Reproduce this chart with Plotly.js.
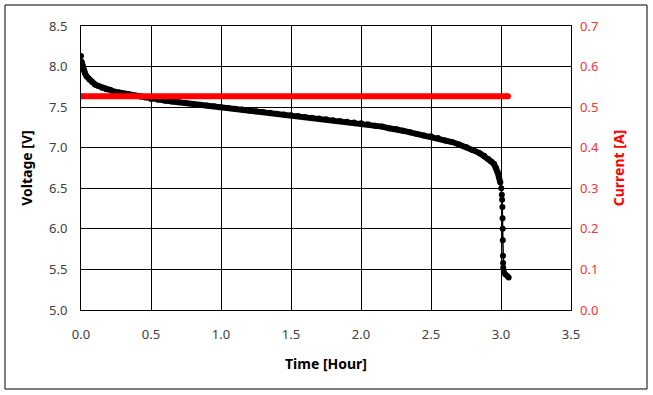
<!DOCTYPE html>
<html>
<head>
<meta charset="utf-8">
<script src="https://cdn.plot.ly/plotly-3.0.1.min.js"></script>
<style>html,body{margin:0;padding:0;background:#fff;}#chart{width:653px;height:395px;}</style>
</head>
<body>
<div id="chart"></div>
<script>
const timeHours = [0.000,0.004,0.010,0.018,0.028,0.040,0.060,0.080,0.100,0.125,0.150,0.180,0.210,0.240,0.270,0.300,0.340,0.380,0.420,0.460,0.500,0.550,0.600,0.650,0.700,0.750,0.800,0.850,0.900,0.950,1.000,1.050,1.100,1.150,1.200,1.250,1.300,1.350,1.400,1.450,1.500,1.550,1.600,1.650,1.700,1.750,1.800,1.850,1.900,1.950,2.000,2.050,2.100,2.150,2.200,2.250,2.300,2.350,2.400,2.450,2.500,2.550,2.600,2.650,2.700,2.750,2.800,2.850,2.880,2.910,2.930,2.950,2.965,2.975,2.985,2.995,3.002,3.006,3.008,3.010,3.011,3.012,3.013,3.014,3.015,3.016,3.020,3.030,3.045,3.055];
const voltage = [8.13,8.06,8.01,7.96,7.92,7.88,7.84,7.81,7.78,7.76,7.74,7.72,7.71,7.69,7.68,7.67,7.66,7.64,7.63,7.62,7.60,7.59,7.58,7.57,7.56,7.55,7.54,7.53,7.52,7.51,7.50,7.49,7.48,7.47,7.46,7.45,7.44,7.43,7.42,7.41,7.40,7.39,7.38,7.37,7.36,7.35,7.34,7.33,7.32,7.31,7.30,7.29,7.27,7.26,7.24,7.23,7.21,7.19,7.17,7.15,7.14,7.12,7.09,7.07,7.04,7.01,6.97,6.93,6.90,6.86,6.83,6.80,6.75,6.70,6.64,6.57,6.50,6.42,6.36,6.27,6.13,6.00,5.86,5.67,5.58,5.52,5.47,5.44,5.42,5.40];
const currentTime = [0.000, 3.05];
const current = [0.527, 0.527];

// dense (thick) part of the voltage record, before the sharp knee
const denseCount = 76;

const fontFam = '"Noto Sans", "Open Sans", sans-serif';
const tickGray = '#404040';

const traces = [
  {
    x: timeHours.slice(1, denseCount), y: voltage.slice(1, denseCount),
    type: 'scatter', mode: 'lines', xaxis: 'x', yaxis: 'y', hoverinfo: 'skip',
    line: {color: '#000000', width: 6}
  },
  {
    x: timeHours, y: voltage, type: 'scatter', mode: 'lines+markers',
    name: 'Voltage', xaxis: 'x', yaxis: 'y',
    line: {color: '#000000', width: 1.5},
    marker: {color: '#000000', size: 6}
  },
  {
    x: currentTime, y: current, type: 'scatter', mode: 'lines+markers',
    name: 'Current', xaxis: 'x', yaxis: 'y2',
    line: {color: '#ff0000', width: 6},
    marker: {color: '#ff0000', size: 6}
  }
];

const layout = {
  width: 653, height: 395,
  margin: {l: 81, r: 82, t: 26, b: 85},
  paper_bgcolor: '#ffffff', plot_bgcolor: '#ffffff',
  showlegend: false,
  font: {family: fontFam, size: 13, color: tickGray},
  xaxis: {
    range: [0, 3.5], dtick: 0.5, tick0: 0, tickformat: '.1f',
    showgrid: true, gridcolor: '#000000', gridwidth: 1,
    showline: true, linecolor: '#000000', linewidth: 1, mirror: true,
    zeroline: false, ticks: '', ticklabelstandoff: 12,
    tickfont: {family: fontFam, size: 13, color: tickGray},
    title: {text: 'Time [Hour]', font: {family: fontFam, size: 14, color: '#000000', weight: 'bold'}, standoff: 17},
    automargin: false
  },
  yaxis: {
    range: [5, 8.5], dtick: 0.5, tick0: 5, tickformat: '.1f',
    showgrid: true, gridcolor: '#000000', gridwidth: 1,
    showline: true, linecolor: '#000000', linewidth: 1, mirror: true,
    zeroline: false, ticks: '', ticklabelstandoff: 10,
    tickfont: {family: fontFam, size: 13, color: tickGray},
    title: {text: 'Voltage [V]', font: {family: fontFam, size: 14, color: '#000000', weight: 'bold'}, standoff: 13},
    automargin: false
  },
  yaxis2: {
    range: [0, 0.7], dtick: 0.1, tick0: 0, tickformat: '.1f',
    overlaying: 'y', side: 'right',
    showgrid: false, zeroline: false, showline: false, ticks: '',
    ticklabelstandoff: 8,
    tickfont: {family: fontFam, size: 13, color: '#ff3030'},
    title: {text: 'Current [A]', font: {family: fontFam, size: 14, color: '#ff0000', weight: 'bold'}, standoff: 16},
    automargin: false
  },
  shapes: [
    {type: 'rect', xref: 'paper', yref: 'paper',
     x0: (5 - 81) / 490, x1: (647 - 81) / 490,
     y0: (310 - 389) / 284, y1: (310 - 5) / 284,
     line: {color: '#000000', width: 1}, fillcolor: 'rgba(0,0,0,0)', layer: 'below'}
  ]
};

Plotly.newPlot('chart', traces, layout, {displayModeBar: false, staticPlot: true});
</script>
</body>
</html>
